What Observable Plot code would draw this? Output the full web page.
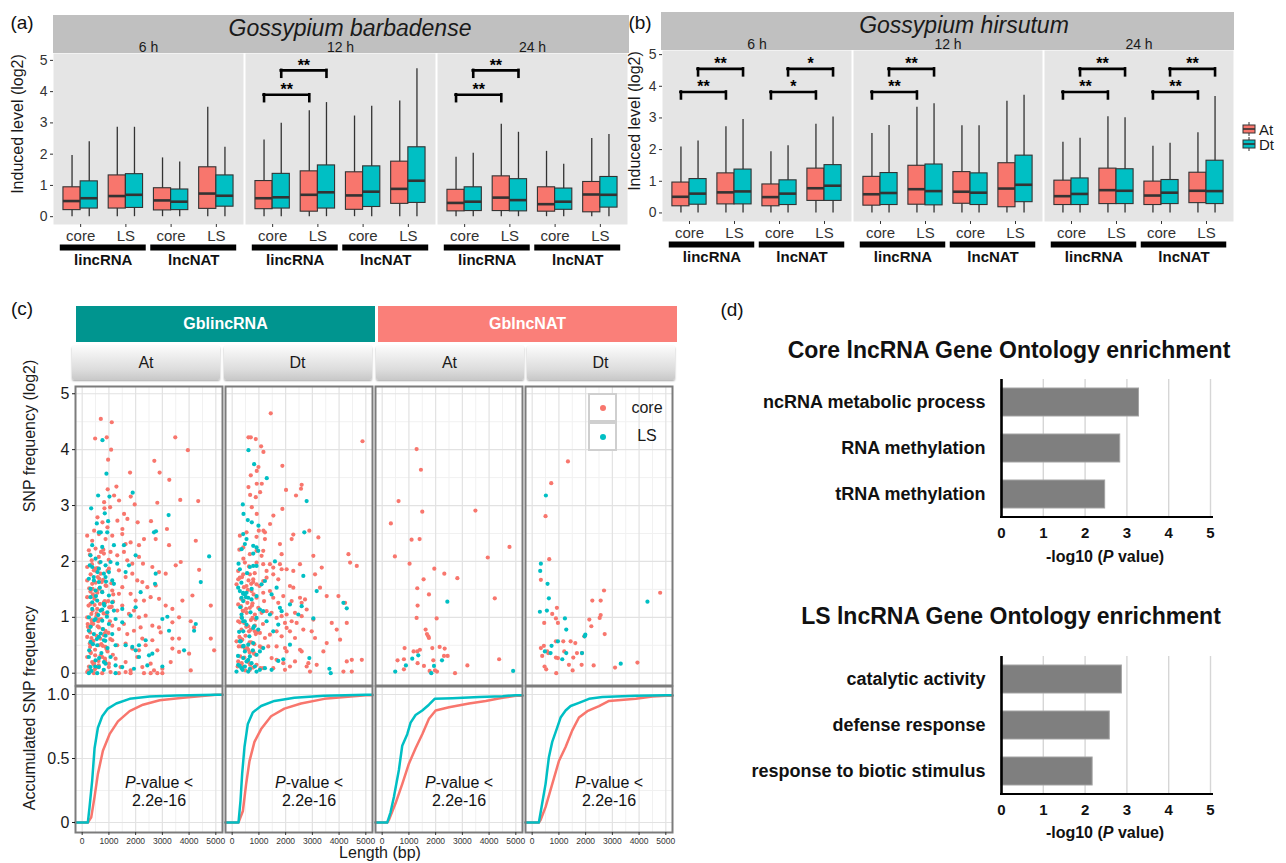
<!DOCTYPE html>
<html><head><meta charset="utf-8">
<script src="https://cdn.jsdelivr.net/npm/d3@7"></script>
<script src="https://cdn.jsdelivr.net/npm/@observablehq/plot@0.6"></script>
<style>
body{margin:0;background:#fff;}
#root{position:relative;width:1286px;height:863px;overflow:hidden;background:#fff;font-family:"Liberation Sans",Arial,Helvetica,sans-serif;}
#root svg{overflow:visible}
</style></head>
<body><div id="root"></div>
<script>
// ---------------- DATA ----------------
const times = ["6 h", "12 h", "24 h"];
const rnaGroups = ["lincRNA", "lncNAT"];
const lncTypes = ["core", "LS"];
const subgenomes = ["At", "Dt"];
const speciesTitles = ["Gossypium barbadense", "Gossypium hirsutum"];
const levelTicks = [0, 1, 2, 3, 4, 5];

// box stats [low, q1, median, q3, high]; order per time:
// lincRNA core At, Dt, lincRNA LS At, Dt, lncNAT core At, Dt, lncNAT LS At, Dt
const gb6h  = [[0,0.21,0.50,0.94,1.96],[0,0.26,0.59,1.13,2.40],[0,0.26,0.66,1.32,2.86],[0,0.28,0.70,1.36,2.86],[0,0.20,0.52,0.91,1.88],[0,0.21,0.48,0.87,1.75],[0,0.25,0.74,1.58,3.50],[0,0.32,0.67,1.32,2.22]];
const gb12h = [[0,0.24,0.59,1.14,2.45],[0,0.26,0.62,1.37,2.99],[0,0.16,0.70,1.45,3.39],[0,0.26,0.78,1.64,3.65],[0,0.22,0.68,1.42,3.22],[0,0.31,0.80,1.61,3.53],[0,0.41,0.89,1.76,3.70],[0,0.44,1.15,2.22,4.73]];
const gb24h = [[0,0.17,0.44,0.86,1.90],[0,0.18,0.48,0.94,2.03],[0,0.18,0.61,1.29,2.96],[0,0.17,0.53,1.20,2.70],[0,0.16,0.40,0.94,2.09],[0,0.22,0.48,0.90,1.68],[0,0.14,0.71,1.11,2.50],[0,0.29,0.70,1.27,2.63]];
const gh6h  = [[0,0.21,0.51,0.96,2.08],[0,0.26,0.61,1.07,2.27],[0,0.27,0.65,1.25,2.72],[0,0.27,0.68,1.37,2.95],[0,0.21,0.50,0.90,1.93],[0,0.25,0.61,1.03,2.12],[0,0.38,0.78,1.40,2.80],[0,0.38,0.86,1.51,3.03]];
const gh12h = [[0,0.23,0.59,1.14,2.51],[0,0.25,0.63,1.26,2.76],[0,0.26,0.75,1.49,3.34],[0,0.24,0.69,1.53,3.45],[0,0.29,0.67,1.29,2.75],[0,0.25,0.64,1.25,2.75],[0,0.18,0.77,1.57,3.53],[0,0.34,0.89,1.81,3.72]];
const gh24h = [[0,0.25,0.53,1.02,2.23],[0,0.25,0.60,1.09,2.36],[0,0.28,0.72,1.40,3.04],[0,0.28,0.70,1.38,3.01],[0,0.25,0.55,0.99,2.11],[0,0.28,0.64,1.04,2.20],[0,0.31,0.70,1.27,2.53],[0,0.28,0.69,1.65,3.68]];

// significance brackets: [time, group, subgenome, bracket level, label]
const gbSig = [["12 h","lincRNA","At",3.9,"**"],["12 h","lincRNA","Dt",4.68,"**"],["24 h","lincRNA","At",3.9,"**"],["24 h","lincRNA","Dt",4.68,"**"]];
const ghSig = [["6 h","lincRNA","At",3.82,"**"],["6 h","lincRNA","Dt",4.55,"**"],["6 h","lncNAT","At",3.82,"*"],["6 h","lncNAT","Dt",4.55,"*"],
  ["12 h","lincRNA","At",3.82,"**"],["12 h","lincRNA","Dt",4.55,"**"],["24 h","lincRNA","At",3.82,"**"],["24 h","lincRNA","Dt",4.55,"**"],
  ["24 h","lncNAT","At",3.82,"**"],["24 h","lncNAT","Dt",4.55,"**"]];

// panel (c)
const lncClasses = ["GblincRNA", "GblncNAT"];
const lengthTicks = [0, 1000, 2000, 3000, 4000, 5000];
const lengthMinor = [500, 1500, 2500, 3500, 4500];
const snpTicks = [0, 1, 2, 3, 4, 5];
const snpMinor = [0.5, 1.5, 2.5, 3.5, 4.5];
const cumTicks = [0, 0.5, 1];
const cumMinor = [0.25, 0.75];
const pValueText = ["P", "-value <", "2.2e-16"];

// [length (bp), SNP frequency (log2)]
const gbLincAtCore = [[697,4.55],[1107,4.49],[485,4.2],[920,4.22],[1082,4.0],[970,3.82],[3483,4.22],[3955,3.99],[2699,3.8],[1791,3.59],[2898,3.59],[3259,3.46],[1281,3.34],[3669,3.1],[4341,3.08],[2811,3.05],[1380,3.09],[1965,3.02],[1816,3.16],[833,2.95],[955,3.29],[2077,2.7],[2575,2.72],[3172,2.58],[1194,3.18],[821,3.06],[1045,2.97],[1567,2.85],[572,2.79],[759,2.7],[1318,2.73],[1692,2.76],[448,2.55],[945,2.61],[1505,2.58],
 [187,2.46],[375,2.37],[625,2.49],[875,2.40],[1125,2.46],[1500,2.49],[1625,2.31],[1812,2.34],[2125,2.29],[2312,2.40],[2750,2.40],[3250,2.29],[4250,2.37],
 [250,2.20],[500,2.23],[812,2.14],[1062,2.17],[1312,2.11],[1562,2.17],[1687,2.02],[1875,1.96],[2125,2.08],[2275,1.96],[2625,1.90],[2875,1.81],[3125,1.78],[3500,1.93],[3687,1.99],[4375,1.85],
 [187,1.90],[437,1.84],[687,1.78],[1000,1.87],[1375,1.84],[1625,1.72],[1875,1.78],[2062,1.66],[2250,1.63],[2437,1.54],[2750,1.57],
 [187,1.66],[375,1.60],[625,1.51],[875,1.57],[1125,1.48],[1375,1.42],[1500,1.54],[1812,1.42],[2000,1.30],[2312,1.30],[2562,1.36],[2875,1.33],[3125,1.21],[3375,1.15],[3750,1.30],[4125,1.39],[4812,1.21],
 [187,1.36],[312,1.24],[562,1.15],[812,1.27],[1062,1.18],[1312,1.12],[1500,1.21],[1750,1.06],[1937,1.12],[2125,1.00],[2375,1.03],[2625,0.85],[2875,0.82],[3375,0.91],[3625,1.00],[4062,0.93],[4187,0.82],
 [187,1.00],[375,0.91],[625,0.82],[875,0.76],[1125,0.85],[1375,0.79],[1562,0.88],[1687,0.70],[1937,0.76],[2187,0.82],[2250,0.62],[2625,0.59],[2937,0.73],[3375,0.62],[3625,0.62],[4812,0.62],
 [187,0.65],[375,0.56],[625,0.50],[875,0.47],[1125,0.59],[1312,0.50],[1625,0.53],[1875,0.44],[2125,0.41],[2375,0.50],[2812,0.41],[3375,0.44],[3625,0.38],[4000,0.35],[4937,0.41],
 [187,0.29],[375,0.20],[562,0.11],[750,0.29],[1000,0.17],[1250,0.26],[1437,0.11],[1625,0.20],[1812,0.05],[2062,0.29],[2250,0.11],[2562,0.17],[2687,0.05],[3000,0.08],[3312,0.20],[4062,0.05],
 [187,0.02],[437,0],[750,0],[1062,0.02],[1375,0],[1625,0.02],[1812,0],[2312,0],[2562,0],[2812,0],[3000,0],
 [255,0.12],[305,0.38],[345,0.63],[410,0.88],[465,1.22],[515,1.47],[585,1.72],[645,1.98],[705,2.17],[285,0.53],[335,0.86],[392,1.12],[455,1.33],[505,1.62],[556,1.88],[622,2.08],[684,0.31],[718,0.52],[765,0.79],[802,1.07],[846,1.29],[905,1.56],[948,1.83],[993,2.03],[262,1.52],[316,1.77],[358,2.02],[428,0.16],[482,0.42],[538,0.67],[598,0.93],[664,1.24],[742,1.46],[784,1.67],[862,0.22],[918,0.43],[982,0.72],[1038,0.93],[1104,1.19],[1163,1.41],
 [230,0.05],[612,0.22],[296,0.47],[845,0.71],[351,0.95],[1012,1.18],[402,1.41],[733,1.63],[461,1.87],[288,2.12],[214,0.83],[541,1.07],[976,1.29],[309,1.46],[638,1.69],[366,1.95],[792,2.21],[420,0.58],[1147,0.33],[474,0.07],[253,0.77],[532,1.02],[861,1.26],[390,1.51],[619,0.14],[948,0.39],[677,0.62],[206,0.88],[735,1.13],[464,1.37],[1093,1.61],[522,1.83],[851,0.26],[380,0.53],[709,0.97],[238,1.21],[567,1.44],[996,0.11],[325,0.36],[1054,0.61],[583,0.84],[912,1.05],[441,0.18],[770,0.49],[299,0.73],[628,0.96],[1157,1.28],[486,0.32],[815,0.68],[344,1.06]];
const gbLincAtLS = [[759,4.17],[908,3.57],[597,3.18],[336,2.95],[1020,3.16],[1890,3.23],[846,2.86],[547,2.68],[970,2.72],[697,2.52],[2761,2.54],[3234,2.83],
 [625,2.52],[937,2.52],[2687,2.52],[375,2.29],[750,2.26],[1187,2.29],[1562,2.29],[2000,2.11],[4750,2.09],
 [312,2.11],[500,2.05],[687,1.99],[875,1.93],[1062,1.99],[1312,1.96],[375,1.90],[625,1.87],[812,1.78],[1000,1.81],
 [1750,1.93],[1625,1.81],[2750,1.78],[2725,1.60],[4437,1.63],
 [250,1.69],[437,1.66],[625,1.63],[875,1.72],[1125,1.66],[1187,1.60],[2187,1.45],
 [312,1.51],[500,1.48],[750,1.45],[1000,1.39],[312,1.36],[562,1.30],[812,1.24],[1125,1.27],[375,1.15],[687,1.12],[937,1.09],[1187,1.12],[1500,1.15],[2000,1.18],
 [3000,0.97],[3187,1.01],[3250,0.76],[4187,0.76],[4250,0.88],
 [250,1.00],[500,0.97],[750,0.94],[1000,0.88],[1250,0.97],[1500,0.91],[1812,1.03],
 [250,0.76],[437,0.70],[625,0.65],[875,0.67],[1125,0.70],[312,0.56],[562,0.50],[812,0.59],[1250,0.50],[1625,0.50],[1875,0.47],[2125,0.50],[2375,0.59],
 [3812,0.41],[2625,0.35],[2500,0.32],[2125,0.29],[2000,0.41],
 [250,0.29],[500,0.23],[812,0.20],[1062,0.29],[312,0.11],[625,0.11],[875,0.17],[1250,0.14],[1500,0.11],[1937,0.08],[2437,0.14],[3000,0.12],
 [250,0],[562,0],[1250,0],
 [262,0.41],[318,0.83],[377,1.27],[431,1.72],[489,0.12],[548,0.61],[602,1.04],[661,1.53],[719,0.36],[776,0.79],[833,1.21],[890,1.64],[947,0.45],[284,1.93],[343,0.04],[402,0.52],[458,0.95],[517,1.38],[575,1.81],[634,0.27],[692,0.71],[751,1.14],[808,0.06],[866,0.58],[925,1.01]];
const gbLincDtCore = [[1443,4.65],[4876,4.15],[609,4.22],[696,4.22],[883,4.19],[1082,4.06],[1169,3.96],[1878,3.71],[983,3.69],[920,3.62],[696,3.54],[2015,3.28],[1107,3.39],[2600,3.37],[2575,3.3],[2388,3.18],[883,3.15],[672,3.19],[1878,2.94],[1542,2.82],[2886,2.55],[995,2.55],[609,3.33],[920,3.39],[1045,3.24],[734,2.97],[920,2.85],[1418,2.67],[1169,2.55],
 [287,2.46],[537,2.52],[912,2.44],[1225,2.52],[1225,2.40],[1787,2.31],[2287,2.48],[2225,2.40],[3225,2.43],
 [412,2.25],[662,2.13],[912,2.19],[1162,2.19],[1100,2.10],[1162,1.95],[1850,2.13],[1787,1.95],[1412,1.95],[1287,1.83],[1537,1.89],[912,1.98],[475,1.98],[225,1.83],
 [412,1.77],[662,1.77],[787,1.68],[912,1.59],[1162,1.65],[1287,1.71],[1537,1.77],[1725,1.68],[1850,1.86],[2037,1.86],[2287,1.83],[2537,1.95],[3037,2.10],[3100,1.77],[3350,1.89],[4350,2.13],[4412,1.98],[4662,1.92],
 [287,1.71],[162,1.59],[537,1.56],[725,1.47],[912,1.35],[1162,1.44],[1412,1.47],[1537,1.35],[1725,1.26],[1912,1.38],[2162,1.56],[2287,1.53],[2225,1.29],[2537,1.35],[2600,1.26],[2725,1.32],[2787,1.14],[3287,1.53],[3537,1.38],[3975,1.38],[4225,1.26],
 [225,1.23],[412,1.11],[662,1.17],[850,1.05],[1100,1.08],[1287,1.11],[1475,1.08],[1662,0.99],[1850,1.02],[2037,1.05],[2225,0.93],[2350,1.08],[2600,1.02],[1975,0.90],[2412,0.90],[3037,0.96],[3725,0.90],[3912,0.78],[4287,0.90],[2037,0.81],
 [225,0.93],[350,0.78],[600,0.84],[850,0.75],[1037,0.72],[1225,0.63],[1412,0.69],[1662,0.75],[1850,0.66],[2162,0.75],[2350,0.63],[2662,0.78],[2975,0.75],[3100,0.63],[3537,0.54],[4037,0.60],[3412,0.39],[2537,0.42],[2600,0.39],
 [162,0.57],[350,0.48],[600,0.42],[787,0.39],[1037,0.48],[1350,0.48],[1662,0.48],[1975,0.45],[2037,0.39],[1475,0.27],[1662,0.24],[1912,0.18],[2162,0.12],[2350,0.21],[2787,0.12],[2850,0.18],[3162,0.15],[4287,0.21],[4475,0.24],[4850,0.24],[4162,0.03],[4475,0.03],
 [225,0.21],[412,0.12],[662,0.06],[912,0.15],[1162,0.09],[1537,0.09],[1975,0.06],[2912,0.03],
 [300,0.3],[380,0.6],[450,0.9],[520,1.15],[600,0.2],[650,0.55],[700,0.95],[760,1.25],[820,0.35],[880,0.7],[350,1.0],[420,1.3],[490,0.05],[560,0.45],[630,0.75],[710,1.6],[780,0.1],[850,0.85],[270,0.65],[330,1.2],
 [205,0.12],[247,0.48],[289,0.91],[333,1.33],[371,1.72],[418,2.05],[455,0.28],[497,0.67],[544,1.08],[586,1.49],[627,1.91],[671,0.15],[713,0.55],[759,0.99],[801,1.41],[843,1.79],[889,0.33],[931,0.73],[977,1.17],[1019,1.56],[1063,0.09],[1108,0.46],[1152,0.88],[1194,1.29],[226,1.68],[268,2.21],[314,0.62],[356,0.18],[397,1.12],[439,1.54],[481,0.44],[526,0.83],[569,1.26],[611,1.66],[655,0.37],[698,0.78],[742,1.21],[785,1.63],[828,0.52],[872,0.96]];
const gbLincDtLS = [[609,3.99],[821,3.74],[1294,3.49],[2786,3.08],[398,3.02],[423,2.85],[584,2.74],[734,2.7],[983,2.64],[2699,2.52],
 [412,2.49],[537,2.40],[475,2.31],[350,2.22],[787,2.28],[912,2.25],[975,2.19],[787,2.14],[1600,2.00],[912,1.92],[787,1.92],[662,1.90],[287,1.86],[225,1.53],[287,1.47],[412,1.44],[475,1.41],[537,1.44],[350,1.35],[412,1.29],[600,1.35],[725,1.32],[912,1.38],[1100,1.59],[1225,1.65],[1475,1.41],[1662,1.53],[2662,1.74],[3162,1.47],[4162,1.26],[4287,1.16],
 [2600,1.20],[3037,0.98],[1850,1.11],[1787,1.17],[2162,1.23],[2475,1.05],[350,1.05],[412,0.93],[537,0.87],[787,0.81],[975,0.78],[412,0.75],[912,0.99],[1037,1.14],[1162,1.11],[1412,1.05],[1287,0.93],[1537,0.75],[1725,0.87],
 [287,0.57],[412,0.48],[600,0.51],[787,0.54],[475,0.39],[662,0.30],[912,0.33],[1037,0.39],[1162,0.45],[2162,0.51],[412,0.27],[537,0.21],[725,0.18],[225,0.15],[350,0.09],[475,0.12],[662,0.08],[850,0.12],[1037,0.06],[1225,0.09],[1475,0.06],[1725,0.22],[1912,0.25],[2887,0.27],[3637,0.08],[3687,0],[600,0.03],[912,0.03],[162,0.03],
 [218,0.31],[259,0.74],[303,1.18],[345,1.62],[386,0.06],[429,0.49],[472,0.93],[514,1.36],[558,1.79],[601,0.24],[643,0.66],[686,1.09],[729,1.51],[772,0.41],[815,0.84],[238,1.96],[281,0.13],[323,0.57],[366,0.99],[408,1.42]];
const gbNatAtCore = [[1288,4.01],[1450,3.64],[612,3.08],[1500,2.89],[325,2.68],[3488,2.91],[1100,2.39],[1400,2.4],[4763,2.26],[475,2.09],[3950,2.07],[1025,1.96],[1950,1.87],[2325,1.78],[1550,1.68],[2813,1.7],[1313,1.52],[1750,1.41],[4213,1.34],[1325,1.21],[1288,0.99],[2038,0.98],[1625,0.78],[1675,0.7],[1725,0.66],[1750,0.63],[838,0.45],[2150,0.47],[2338,0.44],[1175,0.39],[1313,0.39],[1413,0.42],[1875,0.45],[575,0.23],[813,0.25],[1325,0.18],[1563,0.13],[1913,0.23],[2313,0.31],[2450,0.31],[4375,0.25],[3188,0.14],[1775,0.04],[1975,0.05],[2050,0.03],[813,0.07],[2725,0]];
const gbNatAtLS = [[2438,1.28],[488,0.03],[888,0.14],[1125,0.26],[1350,0.32],[1938,0.13],[1838,0],[2238,0.23],[4900,0.04]];
const gbNatDtCore = [[1338,3.79],[713,3.4],[500,2.81],[638,2.04],[325,1.67],[2688,1.48],[4788,1.44],[2250,1.3],[2563,1.3],[925,1.17],[2563,1.04],[2525,0.99],[750,1.06],[888,0.98],[450,0.9],[963,0.9],[2138,0.96],[2213,0.84],[2713,0.7],[1950,0.66],[888,0.57],[1163,0.57],[1438,0.57],[1613,0.54],[325,0.45],[438,0.49],[563,0.39],[600,0.36],[1675,0.36],[1863,0.36],[375,0.31],[888,0.28],[963,0.27],[1538,0.28],[1200,0.39],[463,0.12],[525,0.07],[1375,0.15],[1850,0.15],[2300,0.14],[1513,0.05],[900,0],[3100,0.1],[3938,0.19]];
const gbNatDtLS = [[513,3.18],[325,1.96],[300,1.83],[575,1.6],[625,1.34],[288,1.1],[550,1.12],[1225,0.98],[1275,0.78],[1988,0.69],[1963,0.66],[963,0.57],[725,0.49],[475,0.39],[688,0.36],[1275,0.36],[1863,0.36],[1125,0.25],[3313,0.17],[4313,1.28]];

// accumulated SNP frequency curves [length, fraction]
const cumLincAtCore = [[212,0],[338,0.04],[463,0.2],[588,0.38],[775,0.56],[1025,0.69],[1338,0.79],[1775,0.87],[2275,0.92],[2900,0.955],[3775,0.975],[5000,0.998]];
const cumLincAtLS = [[212,0],[275,0.12],[375,0.33],[463,0.58],[588,0.74],[750,0.83],[963,0.89],[1275,0.93],[1775,0.966],[2525,0.984],[3525,0.992],[5000,0.999]];
const cumLincDtCore = [[236,0],[400,0.09],[522,0.3],[647,0.48],[833,0.63],[1082,0.73],[1455,0.83],[1953,0.89],[2575,0.93],[3445,0.966],[4440,0.984],[5000,0.995]];
const cumLincDtLS = [[236,0],[311,0.17],[373,0.38],[460,0.59],[585,0.77],[771,0.86],[1082,0.91],[1580,0.95],[2326,0.975],[3445,0.99],[5000,0.999]];
const cumNatAtCore = [[188,0],[250,0.02],[500,0.15],[750,0.3],[1000,0.46],[1250,0.58],[1500,0.69],[1750,0.81],[2000,0.875],[2500,0.9],[3250,0.93],[3875,0.95],[4500,0.975],[5000,0.99]];
const cumNatAtLS = [[188,0],[313,0.08],[438,0.2],[625,0.41],[750,0.6],[938,0.69],[1063,0.78],[1250,0.84],[1500,0.875],[1750,0.92],[1963,0.966],[2625,0.97],[3625,0.98],[4500,0.987],[5000,0.995]];
const cumNatDtCore = [[250,0],[313,0.02],[500,0.12],[750,0.3],[1000,0.48],[1250,0.59],[1500,0.72],[1750,0.82],[2063,0.87],[2500,0.91],[2875,0.95],[3875,0.966],[4500,0.984],[5000,0.99]];
const cumNatDtLS = [[250,0],[375,0.15],[500,0.3],[625,0.51],[750,0.63],[900,0.72],[1063,0.82],[1250,0.875],[1438,0.91],[1750,0.935],[2125,0.966],[2625,0.98],[3875,0.99],[5000,0.995]];

// panel (d)
const goTicks = [0, 1, 2, 3, 4, 5];
const coreGoTitle = "Core lncRNA Gene Ontology enrichment";
const coreGoTerms = ["ncRNA metabolic process", "RNA methylation", "tRNA methylation"];
const coreGoValues = [3.29, 2.84, 2.48];
const lsGoTitle = "LS lncRNA Gene Ontology enrichment";
const lsGoTerms = ["catalytic activity", "defense response", "response to biotic stimulus"];
const lsGoValues = [2.88, 2.59, 2.18];

// ---------------- HELPERS ----------------
const FONT = '"Liberation Sans", Arial, Helvetica, sans-serif';
const RED = "#F8766D", TEAL = "#00BFC4";
const intFmt = d => String(d);
const root = document.getElementById("root");
function place(node, x, y) { node.style.position = "absolute"; node.style.left = x + "px"; node.style.top = y + "px"; root.appendChild(node); return node; }
function label(html, cx, cy, css = "", rot = 0) {
  const d = document.createElement("div");
  d.innerHTML = html;
  d.style.cssText = `position:absolute;left:${cx}px;top:${cy}px;transform:translate(-50%,-50%)${rot ? ` rotate(${rot}deg)` : ""};white-space:nowrap;font-family:${FONT};line-height:1;color:#111;${css}`;
  root.appendChild(d); return d;
}
function block(x, y, w, h, css) {
  const d = document.createElement("div");
  d.style.cssText = `position:absolute;left:${x}px;top:${y}px;width:${w}px;height:${h}px;${css}`;
  root.appendChild(d); return d;
}
const baseStyle = {background: "transparent", fontFamily: FONT, color: "#333", overflow: "visible"};

// ---------------- PANELS (a),(b) ----------------
function boxRows(byTime) {
  const rows = [];
  times.forEach((t, ti) => byTime[ti].forEach((s, k) => {
    const g = Math.floor(k / 4), ty = Math.floor(k / 2) % 2, sg = k % 2;
    rows.push({time: t, group: rnaGroups[g], type: lncTypes[ty], sub: subgenomes[sg], slot: g * 2 + ty,
      low: s[0], q1: s[1], med: s[2], q3: s[3], high: s[4]});
  }));
  return rows;
}
function boxPlot(rows, sig, o) {
  const dodge = 0.19, half = 0.19;
  const off = s => (s === "At" ? -dodge : dodge);
  const xpos = d => d.slot + off(d.sub);
  const sigRows = sig.map(([time, group, sub, level, text]) => {
    const gi = rnaGroups.indexOf(group);
    return {time, level, text, xa: gi * 2 + off(sub), xb: gi * 2 + 1 + off(sub)};
  });
  const legs = sigRows.flatMap(s => [{time: s.time, x: s.xa, level: s.level}, {time: s.time, x: s.xb, level: s.level}]);
  const groupRows = times.flatMap(t => rnaGroups.map((g, gi) => ({time: t, group: g, a: gi * 2, b: gi * 2 + 1})));
  const y0 = o.ydomain[0];
  return Plot.plot({
    width: o.width, height: o.height,
    marginLeft: o.ml, marginRight: o.mr, marginTop: o.mt, marginBottom: o.mb,
    style: baseStyle,
    fx: {domain: times, paddingInner: 0.01, paddingOuter: 0},
    x: {domain: [-0.6, 3.6]},
    y: {domain: o.ydomain},
    color: {domain: subgenomes, range: [RED, TEAL]},
    marks: [
      Plot.frame({fill: "#e5e5e5", stroke: null}),
      Plot.axisFx({anchor: "top", tickSize: 0, tickPadding: 2, fontSize: 14, label: null, color: "#1a1a1a"}),
      Plot.axisY({ticks: levelTicks, tickFormat: intFmt, tickSize: 3, tickPadding: 3, fontSize: 14, label: null, color: "#333"}),
      Plot.axisX({ticks: [0, 1, 2, 3], tickFormat: i => lncTypes[i % 2], tickSize: 3, tickPadding: 3, fontSize: 15, label: null, color: "#333"}),
      Plot.ruleX(rows, {fx: "time", x: xpos, y1: "low", y2: "high", stroke: "#333", strokeWidth: 1.3}),
      Plot.rect(rows, {fx: "time", x1: d => xpos(d) - half, x2: d => xpos(d) + half, y1: "q1", y2: "q3", fill: "sub", stroke: "#333", strokeWidth: 1.1}),
      Plot.ruleY(rows, {fx: "time", y: "med", x1: d => xpos(d) - half, x2: d => xpos(d) + half, stroke: "#333", strokeWidth: 2.6}),
      Plot.ruleY(sigRows, {fx: "time", y: "level", x1: "xa", x2: "xb", stroke: "#000", strokeWidth: 2.6, strokeLinecap: "square"}),
      Plot.ruleX(legs, {fx: "time", x: "x", y1: d => d.level - 0.22, y2: "level", stroke: "#000", strokeWidth: 2.6, strokeLinecap: "square"}),
      Plot.text(sigRows, {fx: "time", x: d => (d.xa + d.xb) / 2, y: "level", text: "text", dy: -5, fontSize: 16, fontWeight: "bold", fill: "#000"}),
      Plot.ruleY(groupRows, {fx: "time", x1: d => d.a - 0.45, x2: d => d.b + 0.45, y: () => y0, dy: 23, stroke: "#000", strokeWidth: 6}),
      Plot.text(groupRows, {fx: "time", x: d => (d.a + d.b) / 2, y: () => y0, dy: 36, text: "group", fontSize: 15, fontWeight: "bold", fill: "#111"})
    ]
  });
}

// strips (behind svgs)
block(52.5, 15, 576, 38, "background:#c0c0c0");
block(661, 12, 573, 38, "background:#c0c0c0");

place(boxPlot(boxRows([gb6h, gb12h, gb24h]), gbSig, {width: 640, height: 285, ml: 52.5, mr: 12.3, mt: 53, mb: 61, ydomain: [-0.25, 5.22]}), 0, 0);
place(boxPlot(boxRows([gh6h, gh12h, gh24h]), ghSig, {width: 650, height: 285, ml: 61, mr: 16, mt: 50, mb: 64, ydomain: [-0.27, 5.13]}), 600, 0);

label(speciesTitles[0], 350, 28, "font-size:23px;font-style:italic;color:#1a1a1a");
label(speciesTitles[1], 964, 25, "font-size:23px;font-style:italic;color:#1a1a1a");
label("(a)", 22, 22, "font-size:19px");
label("(b)", 640, 22, "font-size:19px");
label("Induced level (log2)", 18, 124, "font-size:16px;color:#1a1a1a", -90);
label("Induced level (log2)", 635, 121, "font-size:16px;color:#1a1a1a", -90);

// legend (b)
subgenomes.forEach((s, i) => {
  const cy = 129 + i * 15;
  const key = document.createElementNS("http://www.w3.org/2000/svg", "svg");
  key.setAttribute("width", 14); key.setAttribute("height", 14);
  key.innerHTML = `<line x1="7" x2="7" y1="0" y2="14" stroke="#333" stroke-width="1"/><rect x="1" y="3" width="12" height="8" fill="${i ? TEAL : RED}" stroke="#333" stroke-width="1"/><line x1="1" x2="13" y1="7" y2="7" stroke="#333" stroke-width="1.6"/>`;
  place(key, 1242, cy - 7);
  const t = label(s, 0, cy, "font-size:15px;color:#1a1a1a");
  t.style.left = "1259px"; t.style.transform = "translate(0,-50%)";
});

// ---------------- PANEL (c) ----------------
const panelKeys = ["GblincRNA At", "GblincRNA Dt", "GblncNAT At", "GblncNAT Dt"];
const scatterSets = [[gbLincAtCore, gbLincAtLS], [gbLincDtCore, gbLincDtLS], [gbNatAtCore, gbNatAtLS], [gbNatDtCore, gbNatDtLS]];
const cumSets = [[cumLincAtCore, cumLincAtLS], [cumLincDtCore, cumLincDtLS], [cumNatAtCore, cumNatAtLS], [cumNatDtCore, cumNatDtLS]];
const lenDomain = [-250, 5250];
const snpRows = scatterSets.flatMap((pair, i) => pair.flatMap((pts, ti) => pts.map(([len, snp]) => ({panel: panelKeys[i], type: lncTypes[ti], len, snp}))));
const cumRows = cumSets.flatMap((pair, i) => pair.flatMap((pts, ti) => {
  const last = pts[pts.length - 1][1];
  const padded = [[lenDomain[0], 0], ...pts, [lenDomain[1], last]];
  return padded.map(([len, frac]) => ({panel: panelKeys[i], type: lncTypes[ti], len, frac}));
}));

// strips
const classColors = ["#00958F", "#FA7F79"];
lncClasses.forEach((c, i) => {
  block(76 + i * 302, 306, 299, 35.5, `background:${classColors[i]}`);
  label(c, 225.5 + i * 302, 324, "font-size:16px;font-weight:bold;color:#fff");
});
const stripX = [72, 223.5, 375.5, 526.5];
panelKeys.forEach((k, i) => {
  block(stripX[i], 346, 148, 34, "background:linear-gradient(#fbfbfb,#dcdcdc 70%,#c8c8c8);box-shadow:0 1px 2px rgba(0,0,0,0.35);border-radius:2px");
  label(subgenomes[i % 2], stripX[i] + 74, 363, "font-size:16px;color:#1a1a1a");
});

const grids = (ys, ysMinor) => [
  Plot.gridX({ticks: lengthMinor, stroke: "#f1f1f1", strokeOpacity: 1, strokeWidth: 1}),
  Plot.gridY({ticks: ysMinor, stroke: "#f1f1f1", strokeOpacity: 1, strokeWidth: 1}),
  Plot.gridX({ticks: lengthTicks, stroke: "#e2e2e2", strokeOpacity: 1, strokeWidth: 1.2}),
  Plot.gridY({ticks: ys, stroke: "#e2e2e2", strokeOpacity: 1, strokeWidth: 1.2})
];

const scatter = Plot.plot({
  width: 690, height: 310, marginLeft: 73.3, marginRight: 16, marginTop: 6, marginBottom: 5,
  style: baseStyle,
  fx: {domain: panelKeys, paddingInner: 0.02, paddingOuter: 0, axis: null},
  x: {domain: lenDomain, axis: null},
  y: {domain: [-0.22, 5.13]},
  color: {domain: lncTypes, range: [RED, TEAL]},
  marks: [
    ...grids(snpTicks, snpMinor),
    Plot.dot(snpRows.filter(d => d.type === "core"), {fx: "panel", x: "len", y: "snp", fill: "type", r: 2.1}),
    Plot.dot(snpRows.filter(d => d.type === "LS"), {fx: "panel", x: "len", y: "snp", fill: "type", r: 2.1}),
    Plot.frame({stroke: "#7c7c7c", strokeWidth: 2}),
    Plot.axisY({ticks: snpTicks, tickFormat: intFmt, tickSize: 3, tickPadding: 3, fontSize: 16, label: null, color: "#1a1a1a"})
  ]
});
place(scatter, 0, 380);

const cum = Plot.plot({
  width: 690, height: 182, marginLeft: 73.3, marginRight: 16, marginTop: 6, marginBottom: 30,
  style: baseStyle,
  fx: {domain: panelKeys, paddingInner: 0.02, paddingOuter: 0, axis: null},
  x: {domain: lenDomain},
  y: {domain: [-0.078, 1.0625]},
  color: {domain: lncTypes, range: [RED, TEAL]},
  marks: [
    ...grids(cumTicks, cumMinor),
    Plot.line(cumRows, {fx: "panel", x: "len", y: "frac", stroke: "type", z: "type", strokeWidth: 2.5}),
    Plot.frame({stroke: "#7c7c7c", strokeWidth: 2}),
    Plot.axisY({ticks: cumTicks, tickFormat: d => (d === 0 ? "0" : d.toFixed(1)), tickSize: 3, tickPadding: 3, fontSize: 16, label: null, color: "#1a1a1a"}),
    Plot.axisX({ticks: lengthTicks, tickFormat: intFmt, tickSize: 3, tickPadding: 2, fontSize: 8.5, label: null, color: "#333"}),
    Plot.text(panelKeys.map(k => ({panel: k})), {fx: "panel", frameAnchor: "middle", text: () => pValueText[0], fontStyle: "italic", textAnchor: "start", dx: -24, dy: 23, fontSize: 16, fill: "#111"}),
    Plot.text(panelKeys.map(k => ({panel: k})), {fx: "panel", frameAnchor: "middle", text: () => pValueText[1], textAnchor: "start", dx: -13.3, dy: 23, fontSize: 16, fill: "#111"}),
    Plot.text(panelKeys.map(k => ({panel: k})), {fx: "panel", frameAnchor: "middle", text: () => pValueText[2], dx: 10, dy: 41, fontSize: 16, fill: "#111"})
  ]
});
place(cum, 0, 680);

label("(c)", 22, 308, "font-size:19px");
label("SNP frequency (log2)", 30, 436, "font-size:16px;color:#1a1a1a", -90);
label("Accumulated SNP frequency", 30, 708, "font-size:16px;color:#1a1a1a", -90);
label("Length (bp)", 380, 853, "font-size:16px;color:#1a1a1a");

// legend (c)
lncTypes.forEach((t, i) => {
  block(588, 393 + i * 29, 29, 29, "box-sizing:border-box;border:2.5px solid #cfcfcf;background:#fff");
  block(599.5, 404.5 + i * 29, 6, 6, `border-radius:50%;background:${i ? TEAL : RED}`);
  label(t, 647, 408 + i * 28, "font-size:16px;color:#1a1a1a");
});

// ---------------- PANEL (d) ----------------
function goPlot(terms, values) {
  const rows = terms.map((term, i) => ({term, value: values[i]}));
  return Plot.plot({
    width: 540, height: 198, marginLeft: 301, marginRight: 30, marginTop: 10, marginBottom: 50,
    style: {...baseStyle, fontWeight: "bold", color: "#111"},
    x: {domain: [0, 5]},
    y: {domain: terms, paddingInner: 0.4, paddingOuter: 0.2},
    marks: [
      Plot.gridX({ticks: goTicks.slice(1), stroke: "#d6d6d6", strokeOpacity: 1, strokeWidth: 1.4}),
      Plot.barX(rows, {x: "value", y: "term", fill: "#7f7f7f", stroke: "#a3a3a3", strokeWidth: 1}),
      Plot.ruleX([0], {stroke: "#000", strokeWidth: 2.6}),
      Plot.axisX({ticks: goTicks, tickFormat: intFmt, tickSize: 0, tickPadding: 10, fontSize: 15, label: null, fontWeight: "bold", color: "#111"}),
      Plot.axisY({tickSize: 0, tickPadding: 16, fontSize: 18, label: null, fontWeight: "bold", color: "#111"})
    ]
  });
}
place(goPlot(coreGoTerms, coreGoValues), 700, 369);
place(goPlot(lsGoTerms, lsGoValues), 700, 646);
block(999.7, 515.7, 213, 2.6, "background:#000");
block(999.7, 792.7, 213, 2.6, "background:#000");
label("(d)", 732, 309, "font-size:19px");
label(coreGoTitle, 1009, 350, "font-size:23px;font-weight:bold");
label(lsGoTitle, 1011, 616, "font-size:23px;font-weight:bold");
label("-log10 (<i>P</i> value)", 1105, 557, "font-size:16px;font-weight:bold");
label("-log10 (<i>P</i> value)", 1105, 833, "font-size:16px;font-weight:bold");
</script>
</body></html>
